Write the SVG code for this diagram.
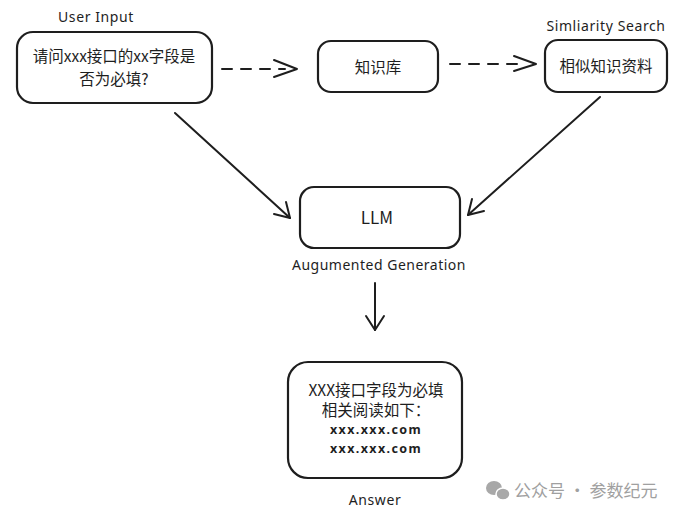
<svg xmlns="http://www.w3.org/2000/svg" width="697" height="519" viewBox="0 0 697 519">
<style>
.box{fill:#fff;stroke:#1e1e1e;stroke-width:2.2}
.t{font-family:"Noto Sans CJK SC","Noto Sans",sans-serif;fill:#1e1e1e;text-anchor:middle}
.lbl{font-family:"Noto Sans","Noto Sans CJK SC",sans-serif;fill:#1e1e1e;text-anchor:middle;font-size:14px;letter-spacing:0.6px}
.ln{fill:none;stroke:#1e1e1e;stroke-width:2;stroke-linecap:round;stroke-linejoin:round}
.wm{font-family:"Noto Sans CJK SC",sans-serif;fill:#a0a0a0;font-size:17px}
.url{font-family:"Noto Sans",sans-serif;fill:#1e1e1e;text-anchor:middle;font-size:12.5px;font-weight:bold;letter-spacing:1.4px}
</style>
<rect width="697" height="519" fill="#fff"/>
<g id="connectors">
  <path class="ln" d="M222 69 L285 69" stroke-dasharray="10 9"/>
  <path class="ln" d="M274 60 L297 69 L274 77"/>
  <path class="ln" d="M450 64 L525 64" stroke-dasharray="10 9"/>
  <path class="ln" d="M514 56 L536 64 L514 71"/>
  <path class="ln" d="M175 113 L290 218"/>
  <path class="ln" d="M286 202 L290 218 L274 214"/>
  <path class="ln" d="M600 97 L468 215"/>
  <path class="ln" d="M484 211 L468 215 L472 199"/>
  <path class="ln" d="M375 283 L375 330"/>
  <path class="ln" d="M366 316 L375 330 L384 316"/>
</g>
<g id="user-input">
  <text class="lbl" x="96" y="22">User Input</text>
  <rect class="box" x="17" y="32" width="195" height="71" rx="16"/>
  <text class="t" x="114" y="62" font-size="15.5">请问xxx接口的xx字段是</text>
  <text class="t" x="114" y="85" font-size="15.5">否为必填?</text>
</g>
<g id="kb">
  <rect class="box" x="318" y="41" width="120" height="51" rx="13"/>
  <text class="t" x="378" y="73" font-size="15.5">知识库</text>
</g>
<g id="similar">
  <text class="lbl" x="606" y="31" font-size="13.5">Simliarity Search</text>
  <rect class="box" x="545" y="40" width="122" height="52" rx="13"/>
  <text class="t" x="606" y="72" font-size="15.5">相似知识资料</text>
</g>
<g id="llm">
  <rect class="box" x="300" y="187" width="160" height="61" rx="14"/>
  <text class="t" x="377" y="224" font-size="17">LLM</text>
  <text class="lbl" x="379" y="270" font-size="12" style="letter-spacing:0.5px">Augumented Generation</text>
</g>
<g id="answer">
  <rect class="box" x="288" y="362" width="174" height="116" rx="20"/>
  <text class="t" x="376" y="396" font-size="15.5">XXX接口字段为必填</text>
  <text class="t" x="376" y="416" font-size="15.5">相关阅读如下：</text>
  <text class="url" x="376" y="434">xxx.xxx.com</text>
  <text class="url" x="376" y="453">xxx.xxx.com</text>
  <text class="lbl" x="375" y="505">Answer</text>
</g>
<g id="watermark">
  <ellipse cx="494" cy="488" rx="8" ry="7" fill="#a8a8a8"/>
  <ellipse cx="503" cy="494" rx="7" ry="6" fill="#a8a8a8" stroke="#fff" stroke-width="1.5"/>
  <text class="wm" x="514" y="497">公众号 · 参数纪元</text>
</g>
</svg>
